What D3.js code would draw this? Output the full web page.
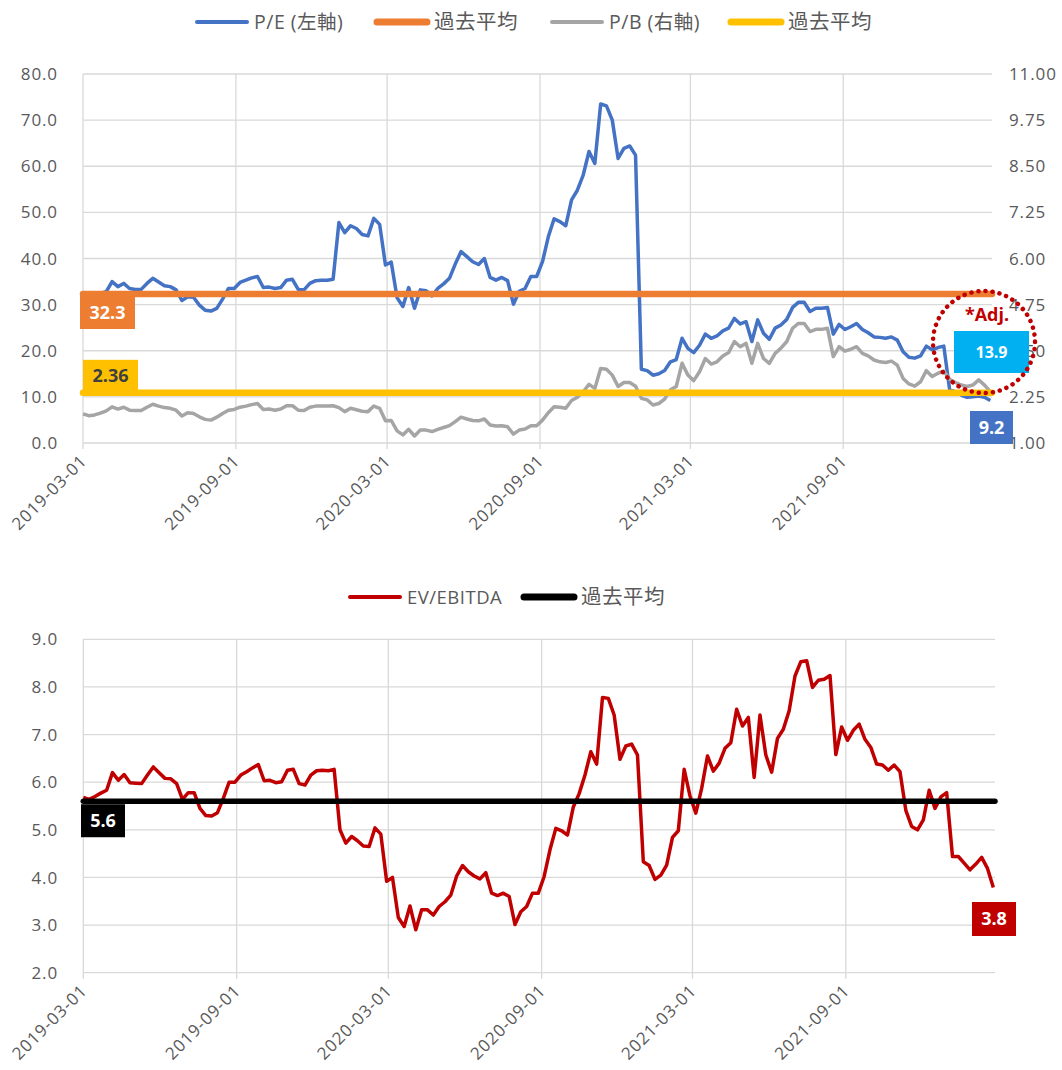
<!DOCTYPE html>
<html>
<head>
<meta charset="utf-8">
<script src="https://cdn.jsdelivr.net/npm/d3@7"></script>
<style>
  body { margin: 0; background: #fff; }
  text { font-family: 'Open Sans', 'Noto Sans CJK JP', sans-serif; }
</style>
</head>
<body>
<svg width="1062" height="1070"></svg>
<script>
// weekly data, first week 2019-03-01, last week 2022-02-25
const firstWeek = new Date(2019, 2, 1);
const lastWeek = new Date(2022, 1, 25);

const xTickLabels = ["2019-03-01", "2019-09-01", "2020-03-01", "2020-09-01", "2021-03-01", "2021-09-01"];
const peTicks = [0, 10, 20, 30, 40, 50, 60, 70, 80];
const pbTicks = [1.00, 2.25, 3.50, 4.75, 6.00, 7.25, 8.50, 9.75, 11.00];
const evTicks = [2, 3, 4, 5, 6, 7, 8, 9];

// P/E (left axis)
const peValues = [
  32.2, 32.3, 32.4, 32.5, 32.8, 35.0, 33.9, 34.6, 33.5, 33.3,
  33.3, 34.6, 35.7, 34.9, 34.1, 33.9, 33.2, 30.9, 31.7, 31.6,
  29.9, 28.8, 28.6, 29.2, 31.2, 33.5, 33.5, 34.8, 35.3, 35.8,
  36.1, 33.7, 33.8, 33.5, 33.7, 35.3, 35.5, 33.3, 33.2, 34.6,
  35.2, 35.3, 35.3, 35.5, 47.8, 45.6, 47.1, 46.5, 45.2, 44.9,
  48.7, 47.4, 38.6, 39.2, 31.5,
  29.6, 33.7, 29.2, 33.2, 33.0, 31.9, 33.5, 34.5, 35.7, 38.8,
  41.5, 40.4, 39.3, 38.7, 40.0, 35.9, 35.3, 35.9, 35.2, 30.1,
  32.9, 33.5, 36.1, 36.1, 39.3, 44.7, 48.6, 48.0, 47.1, 52.7,
  54.8, 58.1, 63.2, 60.6, 73.5, 73.1, 70.0, 61.7, 63.9, 64.4,
  62.4, 16.0, 15.7, 14.7, 15.0, 15.7, 17.6, 18.1, 22.7, 20.5,
  19.6, 21.2, 23.6, 22.7, 23.2,
  24.3, 24.9, 27.0, 25.8, 26.3, 22.0, 26.7, 23.8, 22.5, 24.9,
  25.6, 26.8, 29.4, 30.5, 30.5, 28.5, 29.2, 29.2, 29.4, 23.6,
  25.7, 24.6, 25.2, 25.9, 24.6, 23.9, 23.0, 22.9, 22.7, 23.0,
  22.3, 19.8, 18.6, 18.4, 18.9, 21.0, 20.2, 20.7, 21.0, 11.6,
  11.1, 10.4, 9.9, 10.0, 10.2, 9.9, 9.2
];

// P/B (right axis)
const pbValues = [
  1.79, 1.74, 1.76, 1.81, 1.87, 1.98, 1.92, 1.97, 1.89, 1.88,
  1.88, 1.97, 2.05, 2.00, 1.96, 1.94, 1.89, 1.73, 1.82, 1.80,
  1.71, 1.64, 1.62, 1.70, 1.80, 1.89, 1.91, 1.97, 2.00, 2.04,
  2.07, 1.91, 1.92, 1.89, 1.92, 2.01, 2.01, 1.89, 1.88, 1.97,
  2.00, 2.00, 2.00, 2.01, 1.96, 1.85, 1.94, 1.90, 1.86, 1.85,
  2.00, 1.94, 1.60, 1.61, 1.33,
  1.22, 1.37, 1.19, 1.35, 1.35, 1.31, 1.37, 1.42, 1.47, 1.58,
  1.70, 1.65, 1.61, 1.60, 1.65, 1.49, 1.46, 1.47, 1.44, 1.24,
  1.35, 1.38, 1.47, 1.47, 1.62, 1.82, 1.98, 1.97, 1.94, 2.15,
  2.24, 2.39, 2.59, 2.48, 3.02, 3.00, 2.84, 2.53, 2.64, 2.64,
  2.54, 2.21, 2.17, 2.03, 2.07, 2.19, 2.44, 2.53, 3.16, 2.84,
  2.69, 2.93, 3.29, 3.14, 3.20,
  3.36, 3.45, 3.75, 3.61, 3.70, 3.16, 3.70, 3.29, 3.16, 3.43,
  3.57, 3.75, 4.11, 4.24, 4.24, 4.02, 4.08, 4.08, 4.11, 3.34,
  3.61, 3.49, 3.54, 3.61, 3.43, 3.36, 3.25, 3.20, 3.18, 3.22,
  3.11, 2.75, 2.60, 2.54, 2.66, 2.96, 2.80, 2.89, 2.95, 2.73,
  2.64, 2.57, 2.53, 2.57, 2.71, 2.57, 2.39
];

// EV/EBITDA
const evValues = [
  5.68, 5.64, 5.70, 5.77, 5.83, 6.20, 6.04, 6.16, 5.99, 5.98,
  5.97, 6.15, 6.32, 6.20, 6.08, 6.07, 5.97, 5.64, 5.78, 5.78,
  5.45, 5.30, 5.29, 5.36, 5.66, 6.00, 6.00, 6.15, 6.22, 6.30,
  6.37, 6.03, 6.04, 5.99, 6.01, 6.25, 6.27, 5.97, 5.94, 6.15,
  6.24, 6.25, 6.24, 6.27, 5.00, 4.72, 4.86, 4.77, 4.66, 4.65,
  5.04, 4.91, 3.92, 4.00, 3.16,
  2.97, 3.40, 2.90, 3.32, 3.32, 3.21, 3.39, 3.49, 3.63, 4.03,
  4.25, 4.12, 4.03, 3.97, 4.10, 3.67, 3.62, 3.67, 3.60, 3.01,
  3.28, 3.39, 3.67, 3.67, 4.02, 4.58, 5.03, 4.98, 4.89, 5.48,
  5.76, 6.15, 6.64, 6.38, 7.78, 7.76, 7.41, 6.48, 6.76, 6.80,
  6.57, 4.33, 4.25, 3.96, 4.05, 4.26, 4.84, 4.98, 6.27, 5.71,
  5.35, 5.87, 6.55, 6.23, 6.40,
  6.71, 6.83, 7.53, 7.18, 7.36, 6.10, 7.41, 6.57, 6.21, 6.92,
  7.11, 7.50, 8.23, 8.53, 8.55, 7.99, 8.14, 8.16, 8.24, 6.58,
  7.16, 6.88, 7.09, 7.22, 6.90, 6.73, 6.38, 6.36, 6.25, 6.36,
  6.22, 5.41, 5.07, 5.00, 5.21, 5.83, 5.45, 5.69, 5.78, 4.44,
  4.44, 4.30, 4.16, 4.28, 4.42, 4.19, 3.79
];

const peAvg = 32.3, pbAvg = 2.36, evAvg = 5.6;
const peLast = 9.2, peAdj = 13.9, evLast = 3.8;

const weeks = d3.timeDay.range(firstWeek, d3.timeDay.offset(lastWeek, 1), 7);
const parse = d3.timeParse("%Y-%m-%d");
const xTicks = xTickLabels.map(parse);

const gridColor = "#D9D9D9", textColor = "#595959";
const svg = d3.select("svg");

// ---------- top chart ----------
const topBox = { left: 83, right: 992, top: 74, bottom: 443 };
const x1 = d3.scaleTime().domain([firstWeek, new Date(2022, 1, 27)]).range([topBox.left, topBox.right]);
const yPE = d3.scaleLinear().domain([0, 80]).range([topBox.bottom, topBox.top]);
const yPB = d3.scaleLinear().domain([1, 11]).range([topBox.bottom, topBox.top]);

// ---------- bottom chart ----------
const botBox = { left: 83.3, right: 995, top: 639.3, bottom: 972.7 };
const x2 = d3.scaleTime().domain([firstWeek, new Date(2022, 1, 27)]).range([botBox.left, botBox.right]);
const yEV = d3.scaleLinear().domain([2, 9]).range([botBox.bottom, botBox.top]);

function drawGrid(g, x, y, ticks, b) {
  g.selectAll(".hg").data(ticks).enter().append("line")
    .attr("x1", b.left).attr("x2", b.right)
    .attr("y1", d => y(d)).attr("y2", d => y(d))
    .attr("stroke", gridColor).attr("stroke-width", 1.3);
  g.selectAll(".vg").data(xTicks).enter().append("line")
    .attr("x1", d => x(d)).attr("x2", d => x(d))
    .attr("y1", b.top).attr("y2", b.bottom + 6)
    .attr("stroke", gridColor).attr("stroke-width", 1.3);
  g.selectAll(".xl").data(xTicks).enter().append("text")
    .attr("transform", d => "translate(" + (x(d) + 5) + "," + (b.bottom + 19) + ") rotate(-45)")
    .attr("text-anchor", "end")
    .attr("font-size", 17).attr("letter-spacing", 0.9)
    .attr("fill", textColor)
    .text(d => d3.timeFormat("%Y-%m-%d")(d));
}

function leftLabels(g, y, ticks, fmt) {
  g.selectAll(".yl").data(ticks).enter().append("text")
    .attr("x", 58).attr("y", d => y(d)).attr("dy", "0.36em")
    .attr("text-anchor", "end")
    .attr("font-size", 17).attr("letter-spacing", 0.9)
    .attr("fill", textColor)
    .text(fmt);
}

function addLine(g, x, y, values, color, width) {
  const line = d3.line().x((d, i) => x(weeks[i])).y(d => y(d));
  g.append("path").datum(values)
    .attr("d", line)
    .attr("fill", "none")
    .attr("stroke", color)
    .attr("stroke-width", width)
    .attr("stroke-linejoin", "round");
}

function avgLine(g, b, yv, color, width) {
  g.append("line")
    .attr("x1", b.left).attr("x2", b.right)
    .attr("y1", yv).attr("y2", yv)
    .attr("stroke", color).attr("stroke-width", width)
    .attr("stroke-linecap", "round");
}

function labelBox(g, bx, by, w, h, fill, label, color, size) {
  g.append("rect").attr("x", bx).attr("y", by).attr("width", w).attr("height", h).attr("fill", fill);
  g.append("text").attr("x", bx + w / 2).attr("y", by + h / 2).attr("dy", "0.36em")
    .attr("text-anchor", "middle").attr("font-weight", "bold")
    .attr("font-size", size || 18).attr("fill", color).text(label);
}

function legend(g, items, y) {
  items.forEach(it => {
    g.append("line").attr("x1", it.x).attr("x2", it.x + 50).attr("y1", y).attr("y2", y)
      .attr("stroke", it.color).attr("stroke-width", it.w).attr("stroke-linecap", "round");
    g.append("text").attr("x", it.x + 57).attr("y", y).attr("dy", "0.36em")
      .attr("font-size", it.size).attr("letter-spacing", 0.5)
      .attr("fill", textColor).text(it.label);
  });
}

// top panel
const g1 = svg.append("g");
drawGrid(g1, x1, yPE, peTicks, topBox);
leftLabels(g1, yPE, peTicks, d3.format(".1f"));
g1.selectAll(".rl").data(pbTicks).enter().append("text")
  .attr("x", 1009).attr("y", d => yPB(d)).attr("dy", "0.36em")
  .attr("font-size", 17).attr("letter-spacing", 0.9)
  .attr("fill", textColor)
  .text(d3.format(".2f"));

addLine(g1, x1, yPE, peValues, "#4472C4", 3.5);
avgLine(g1, topBox, yPE(peAvg), "#ED7D31", 6.5);
addLine(g1, x1, yPB, pbValues, "#A5A5A5", 3.5);
avgLine(g1, topBox, yPB(pbAvg), "#FFC000", 6.5);

legend(g1, [
  { x: 197, color: "#4472C4", w: 4, size: 19.5, label: "P/E (左軸)" },
  { x: 377, color: "#ED7D31", w: 7, size: 20.5, label: "過去平均" },
  { x: 552, color: "#A5A5A5", w: 4, size: 19.5, label: "P/B (右軸)" },
  { x: 731, color: "#FFC000", w: 7, size: 20.5, label: "過去平均" }
], 22);

labelBox(g1, 80, yPE(peAvg) + 2, 55, 33, "#ED7D31", d3.format(".1f")(peAvg), "#fff");
labelBox(g1, 83, yPB(pbAvg) - 33, 55, 31, "#FFC000", d3.format(".2f")(pbAvg), "#404040");
labelBox(g1, 954, 331, 75, 42, "#00B0F0", d3.format(".1f")(peAdj), "#fff", 16);
labelBox(g1, 970, 411, 43, 33, "#4472C4", d3.format(".1f")(peLast), "#fff");

g1.append("text").attr("x", 987).attr("y", 315).attr("dy", "0.36em")
  .attr("text-anchor", "middle").attr("font-weight", "bold")
  .attr("font-size", 18).attr("fill", "#C00000").text("*Adj.");
g1.append("circle").attr("cx", 984).attr("cy", 342).attr("r", 51)
  .attr("fill", "none").attr("stroke", "#C00000").attr("stroke-width", 4.5)
  .attr("stroke-linecap", "round").attr("stroke-dasharray", "0.1 7");

// bottom panel
const g2 = svg.append("g");
drawGrid(g2, x2, yEV, evTicks, botBox);
leftLabels(g2, yEV, evTicks, d3.format(".1f"));
addLine(g2, x2, yEV, evValues, "#C00000", 3.5);
avgLine(g2, botBox, yEV(evAvg), "#000000", 5.5);

legend(g2, [
  { x: 350, color: "#C00000", w: 4, size: 18.5, label: "EV/EBITDA" },
  { x: 524, color: "#000000", w: 7, size: 20.5, label: "過去平均" }
], 597);

labelBox(g2, 81, yEV(evAvg) + 3, 44, 33, "#000000", d3.format(".1f")(evAvg), "#fff");
labelBox(g2, 972, 902, 44, 34, "#C00000", d3.format(".1f")(evLast), "#fff");
</script>
</body>
</html>
